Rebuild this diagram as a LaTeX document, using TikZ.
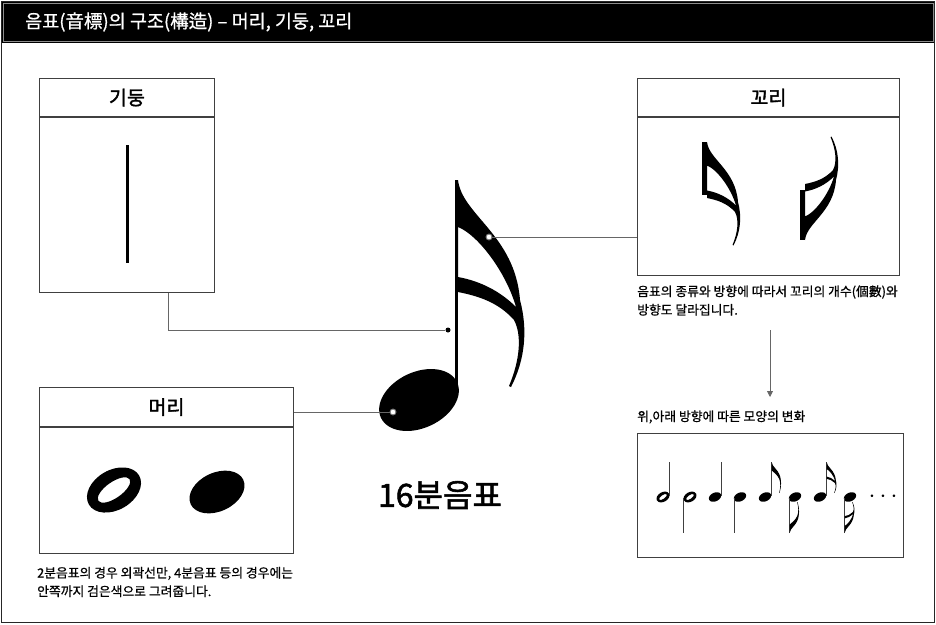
\documentclass[tikz,border=0pt]{standalone}
\usepackage{fontspec}
\setmainfont{Noto Sans CJK KR}
\newfontfamily\heavyfont[FakeBold=1.8]{Noto Sans CJK KR}
\newfontfamily\notefont[FakeBold=0.8]{Noto Sans CJK KR}
\usetikzlibrary{arrows.meta}

\begin{document}
\begin{tikzpicture}[
	x = 1pt, y = -1pt,
	frame/.style = {draw=black!85, line width=1.3pt},
	boxbody/.style = {draw=black!75, line width=0.9pt, inner sep=0pt, anchor=north west},
	boxhead/.style = {boxbody, anchor=south west, font=\heavyfont\fontsize{19.5}{19.5}\selectfont},
	note/.style = {anchor=west, inner sep=0pt, align=left,
		font=\notefont\fontsize{12.8}{18.5}\selectfont},
	lead/.style = {draw=black!60, line width=0.8pt},
	hollowdot/.style = {circle, draw=black!55, fill=white, line width=0.9pt,
		inner sep=0pt, minimum size=6pt},
	soliddot/.style = {circle, fill=black, inner sep=0pt, minimum size=5pt},
	thinstem/.style = {draw=black!75, line width=1pt},
	pics/solidhead/.style = {code = {
		\fill (0,0) ellipse [x radius=42pt, y radius=28pt, rotate=25];
	}},
	pics/openhead/.style = {code = {
		\fill[even odd rule] (0,0) ellipse [x radius=29pt, y radius=20pt, rotate=30]
			(0,0) ellipse [x radius=19pt, y radius=8pt, rotate=35];
	}},
	pics/flagpair/.style = {code = {
		\fill[even odd rule] (0,0) .. controls (4,35) and (57,55) .. (62,120)
			.. controls (70,150) and (67,180) .. (53,207) -- (51,206)
			.. controls (62,180) and (64,155) .. (56,140)
			.. controls (40,122) and (20,116) .. (0,112) -- cycle
			(0,47) .. controls (20,55) and (48,92) .. (58,127)
			.. controls (42,111) and (22,101) .. (0,97) -- cycle;
	}},
	pics/flagone/.style = {code = {
		\fill (0,0) .. controls (4,35) and (57,55) .. (62,120)
			.. controls (66,150) and (62,180) .. (53,207) -- (51,206)
			.. controls (60,170) and (62,140) .. (52,115)
			.. controls (40,85) and (15,70) .. (0,55) -- cycle;
	}}
	]
	\useasboundingbox (0,0) rectangle (936,624);
	\fill[black] (1,1) rectangle (935,43);
	\draw[black!45, line width=0.6pt] (3,3) rectangle (933,41);
	\draw[frame] (1.5,1.5) rectangle (934.5,622.5);
	\node[anchor=west, text=white, inner sep=0pt, font=\notefont\fontsize{18.5}{18.5}\selectfont]
		(title) at (25,22) {음표(音標)의 구조(構造) – 머리, 기둥, 꼬리};
	
	\node[boxbody, minimum width=175pt, minimum height=175pt] (stemBody) at (39,117) {};
	\node[boxhead, minimum width=175pt, minimum height=38pt] (stemHead) at (stemBody.north west) {기둥};
	\draw[line width=3pt] (127,145) -- (127,263);
	
	\node[boxbody, minimum width=254pt, minimum height=126pt] (headBody) at (39,427) {};
	\node[boxhead, minimum width=254pt, minimum height=39pt] (headHead) at (headBody.north west) {머리};
	\pic at (114,490) {openhead};
	\pic[scale=0.69] at (217,492) {solidhead};
	\node[note] (headNote) at (37,582)
		{2분음표의 경우 외곽선만, 4분음표 등의 경우에는\\안쪽까지 검은색으로 그려줍니다.};
	
	\node[boxbody, minimum width=262pt, minimum height=158pt] (flagBody) at (637,117) {};
	\node[boxhead, minimum width=262pt, minimum height=38pt] (flagHead) at (flagBody.north west) {꼬리};
	\fill (702,142) rectangle (707,195);
	\pic[scale=0.5] at (707,142) {flagpair};
	\fill (800,190) rectangle (805,240);
	\pic[xscale=0.5, yscale=-0.5] at (805,240) {flagpair};
	\node[note] (flagNote) at (637,300.5)
		{음표의 종류와 방향에 따라서 꼬리의 개수(個數)와\\방향도 달라집니다.};
	
	\fill (455,180) rectangle (458,386);
	\pic at (419,400) {solidhead};
	\pic at (458,180) {flagpair};
	\node[hollowdot] (headDot) at (393,412) {};
	\node[hollowdot] (flagDot) at (489,237) {};
	\node[soliddot] (stemDot) at (448,330) {};
	\node[font=\heavyfont\fontsize{32}{32}\selectfont] (noteName) at (440,495) {16분음표};
	
	\draw[lead] ([xshift=41.5pt]stemBody.south) |- (stemDot);
	\draw[lead] (headHead.east |- headDot) -- (headDot);
	\draw[lead] (flagBody.west |- flagDot) -- (flagDot);
	
	\coordinate (arrowTop) at (770,330);
	\coordinate (arrowEnd) at (770,397);
	\draw[lead, -{Triangle[length=6pt, width=6pt]}] (arrowTop) -- (arrowEnd);
	\node[note] (dirLabel) at (637,417) {위,아래 방향에 따른 모양의 변화};
	
	\node[boxbody, minimum width=266pt, minimum height=124pt] (shapeBody) at (637,433) {};
	\pic[scale=0.24] at (663,497) {openhead};
	\draw[thinstem] (669.5,496) -- (669.5,462);
	\pic[scale=0.24] at (690,497) {openhead};
	\draw[thinstem] (683.5,498) -- (683.5,533);
	\pic[scale=0.155] at (715,497) {solidhead};
	\draw[thinstem] (721,496) -- (721,462);
	\pic[scale=0.155] at (740,497) {solidhead};
	\draw[thinstem] (734,498) -- (734,533);
	\pic[scale=0.155] at (765,497) {solidhead};
	\draw[thinstem] (771,496) -- (771,462);
	\pic[scale=0.15] at (771.5,462) {flagone};
	\pic[scale=0.155] at (795,497) {solidhead};
	\draw[thinstem] (789,498) -- (789,533);
	\pic[xscale=0.15, yscale=-0.15] at (789.5,533) {flagone};
	\pic[scale=0.155] at (820,497) {solidhead};
	\draw[thinstem] (826,496) -- (826,462);
	\pic[scale=0.15] at (826.5,462) {flagpair};
	\pic[scale=0.155] at (850,497) {solidhead};
	\draw[thinstem] (844,498) -- (844,533);
	\pic[xscale=0.15, yscale=-0.15] at (844.5,533) {flagpair};
	\node[font=\fontsize{25}{25}\selectfont] (more) at (883,497) {$\cdots$};
\end{tikzpicture}
\end{document}
